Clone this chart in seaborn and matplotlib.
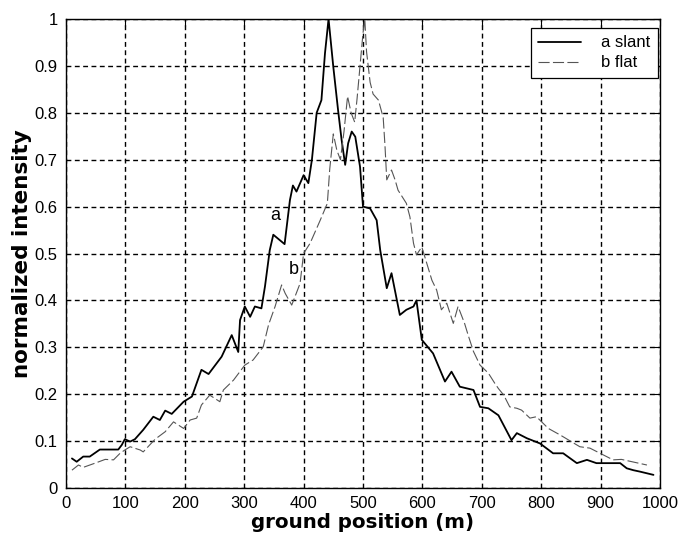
import numpy as np
import pandas as pd
import matplotlib
matplotlib.use("Agg")
import matplotlib.pyplot as plt
import seaborn as sns

# ==========================================
# Data
# ==========================================
a_x = [10, 18, 29, 40, 57, 74, 88, 94, 99, 108, 116, 130, 147, 158, 167, 178, 198, 212, 228, 240,
       262, 279, 290, 293, 301, 310, 318, 329, 335, 343, 349, 368, 377, 382, 388, 400, 408, 414, 422, 430,
       436, 442, 450, 458, 464, 470, 475, 481, 487, 495, 500, 512, 523, 529, 540, 548, 562, 573, 585, 590,
       599, 618, 638, 649, 663, 686, 697, 711, 728, 750, 759, 776, 798, 820, 837, 860, 877, 893, 933, 944,
       955, 966, 989]
a_y = [0.063, 0.056, 0.067, 0.067, 0.082, 0.082, 0.082, 0.092, 0.104, 0.099, 0.104, 0.124, 0.152, 0.145,
       0.165, 0.158, 0.184, 0.195, 0.252, 0.243, 0.28, 0.326, 0.29, 0.358, 0.387, 0.365, 0.387, 0.383,
       0.43, 0.507, 0.54, 0.52, 0.614, 0.645, 0.632, 0.667, 0.65, 0.70, 0.80, 0.827, 0.927, 1.0, 0.898,
       0.806, 0.742, 0.689, 0.735, 0.76, 0.749, 0.685, 0.60, 0.596, 0.571, 0.507, 0.426, 0.458, 0.369,
       0.38, 0.387, 0.40, 0.316, 0.287, 0.227, 0.248, 0.216, 0.209, 0.173, 0.170, 0.155, 0.102, 0.117,
       0.106, 0.095, 0.074, 0.074, 0.053, 0.06, 0.053, 0.053, 0.042, 0.038, 0.035, 0.028]

b_x = [10, 21, 29, 49, 66, 80, 91, 99, 108, 125, 130, 150, 167, 181, 198, 209, 220, 228, 242, 259,
       265, 282, 301, 315, 332, 341, 352, 363, 369, 380, 394, 400, 411, 428, 440, 444, 450, 456, 462, 468,
       474, 480, 486, 490, 495, 500, 503, 506, 512, 517, 526, 534, 537, 540, 548, 554, 559, 573, 579, 585,
       590, 599, 616, 624, 632, 641, 652, 660, 671, 677, 686, 697, 711, 722, 728, 737, 747, 759, 767, 781,
       792, 812, 832, 865, 882, 921, 935, 978]
b_y = [0.038, 0.049, 0.044, 0.053, 0.061, 0.06, 0.074, 0.081, 0.088, 0.081, 0.077, 0.104, 0.12, 0.141,
       0.127, 0.145, 0.149, 0.177, 0.198, 0.184, 0.209, 0.23, 0.262, 0.273, 0.301, 0.348, 0.387, 0.433,
       0.415, 0.39, 0.436, 0.5, 0.522, 0.571, 0.607, 0.68, 0.755, 0.72, 0.70, 0.76, 0.835, 0.80, 0.78,
       0.83, 0.90, 0.97, 1.0, 0.93, 0.865, 0.84, 0.827, 0.79, 0.73, 0.657, 0.678, 0.657, 0.635, 0.607,
       0.578, 0.522, 0.497, 0.514, 0.443, 0.422, 0.38, 0.394, 0.351, 0.387, 0.351, 0.326, 0.291, 0.262,
       0.245, 0.223, 0.212, 0.198, 0.173, 0.17, 0.166, 0.149, 0.152, 0.127, 0.113, 0.088, 0.085, 0.06,
       0.061, 0.049]

x_ticks = list(range(0, 1001, 100))
y_ticks = [0, 0.1, 0.2, 0.3, 0.4, 0.5, 0.6, 0.7, 0.8, 0.9, 1]
y_tick_labels = ["0", "0.1", "0.2", "0.3", "0.4", "0.5", "0.6", "0.7", "0.8", "0.9", "1"]

df_a = pd.DataFrame({"x": a_x, "y": a_y})
df_b = pd.DataFrame({"x": b_x, "y": b_y})

# ==========================================
# Plot
# ==========================================
sns.set_style("white")
plt.rcParams["font.family"] = ["Liberation Sans", "DejaVu Sans"]
plt.rcParams["text.color"] = "black"
plt.rcParams["axes.labelcolor"] = "black"

fig = plt.figure(figsize=(6.79, 5.45), dpi=100)
ax = fig.add_axes([66 / 679, 1 - 488 / 545, 594 / 679, 469 / 545])

sns.lineplot(data=df_a, x="x", y="y", ax=ax, color="black", linewidth=1.3,
             estimator=None, label="a slant")
sns.lineplot(data=df_b, x="x", y="y", ax=ax, color="#555555", linewidth=0.8,
             estimator=None, label="b flat", linestyle=(0, (10, 3)))

ax.set_xlim(0, 1000)
ax.set_ylim(0, 1)
ax.set_xticks(x_ticks)
ax.set_yticks(y_ticks)
ax.set_yticklabels(y_tick_labels)
ax.tick_params(direction="in", length=5, width=0.8, colors="black", labelsize=12,
               top=True, right=True)
ax.tick_params(axis="x", pad=6)
ax.tick_params(axis="y", pad=6)

ax.grid(True, color="black", linestyle=(0, (3.5, 2.5)), linewidth=1.0)
ax.set_axisbelow(True)
for s in ax.spines.values():
    s.set_color("black")
    s.set_linewidth(1.0)

ax.set_xlabel("ground position (m)", fontsize=14.3, fontweight="bold",
              family="DejaVu Sans", labelpad=1)
ax.set_ylabel("normalized intensity", fontsize=15.5, fontweight="bold",
              family="DejaVu Sans", labelpad=2)

ax.text(352, 0.58, "a", fontsize=13, ha="center", va="center")
ax.text(384, 0.465, "b", fontsize=13, ha="center", va="center")

leg = ax.legend(loc="upper right", bbox_to_anchor=(0.997, 0.981), frameon=True,
                fancybox=False, edgecolor="black", fontsize=12, handlelength=2.6,
                borderpad=0.45, labelspacing=0.3, handletextpad=1.2, borderaxespad=0)
leg.get_frame().set_linewidth(0.9)
leg.get_frame().set_alpha(1)

fig.savefig("out.png", dpi=100, facecolor="white")
